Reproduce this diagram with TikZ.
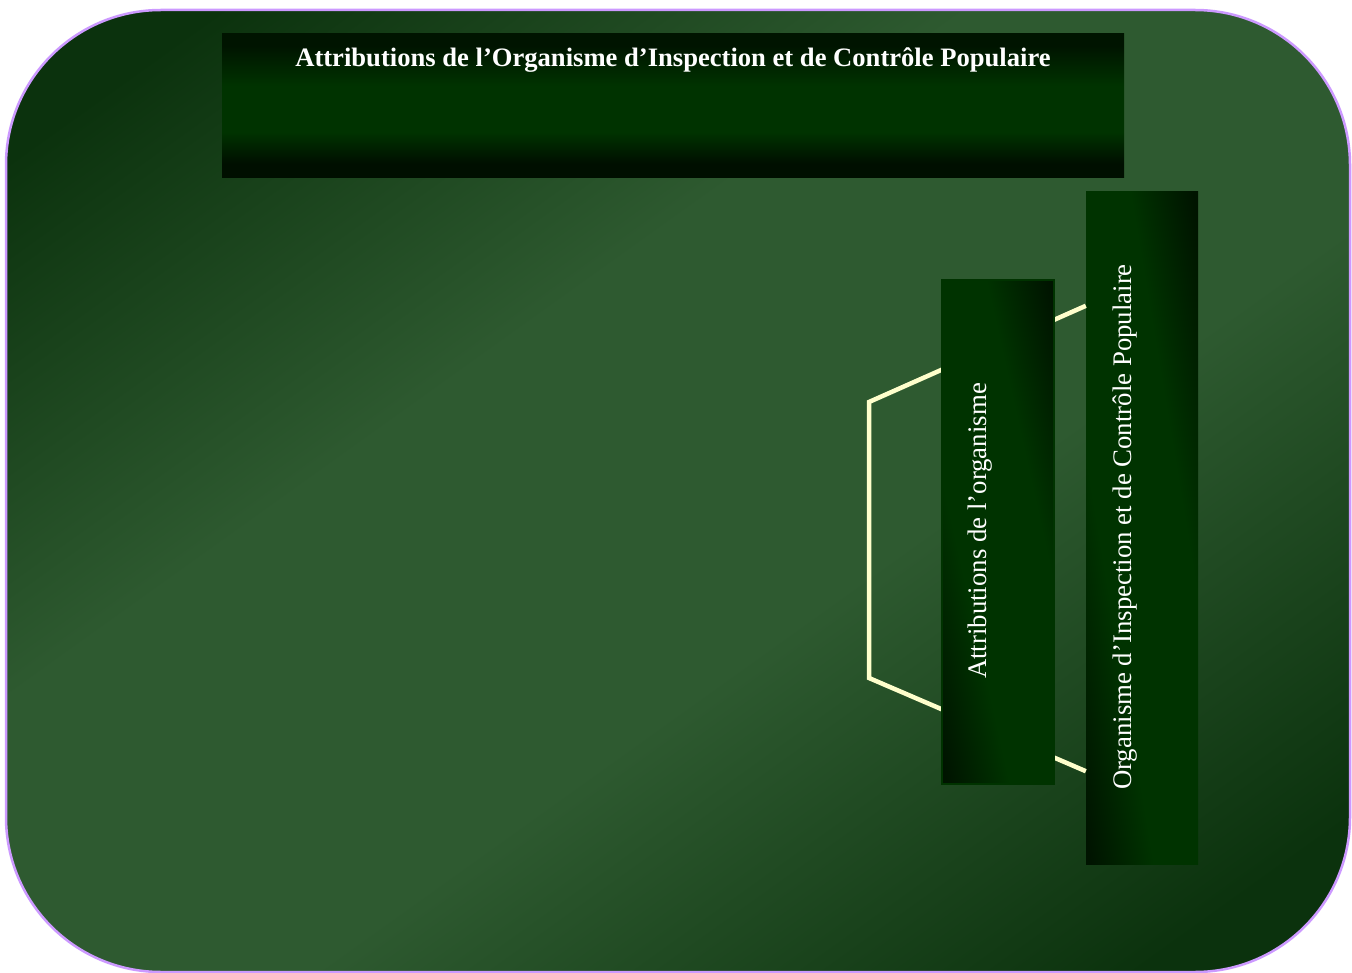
\documentclass[tikz,border=0pt]{standalone}
\usepackage{fontspec}
\setmainfont{Liberation Serif}
\usetikzlibrary{calc}
\definecolor{bgdk}{RGB}{11,50,13}
\definecolor{bglt}{RGB}{46,90,48}
\definecolor{boxgr}{RGB}{0,51,0}
\definecolor{boxdk}{RGB}{0,20,0}
\definecolor{boxdkb}{RGB}{0,15,0}
\definecolor{rimcol}{RGB}{204,153,255}
\definecolor{linecol}{RGB}{255,255,204}
\pgfdeclareverticalshading{bgshade}{100bp}{color(0bp)=(bgdk); color(20bp)=(bgdk); color(42bp)=(bglt); color(60bp)=(bglt); color(80bp)=(bgdk); color(100bp)=(bgdk)}
\pgfdeclareverticalshading{titleshade}{100bp}{color(0bp)=(boxdkb); color(25bp)=(boxdkb); color(30bp)=(boxdkb); color(41bp)=(boxgr); color(57bp)=(boxgr); color(71bp)=(boxdk); color(75bp)=(boxdk); color(100bp)=(boxdk)}
\pgfdeclareverticalshading{sideshade}{100bp}{color(0bp)=(boxdk); color(16bp)=(boxdk); color(36bp)=(boxgr); color(64bp)=(boxgr); color(84bp)=(boxdk); color(100bp)=(boxdk)}
\tikzset{
  panelrim/.style={draw=rimcol, line width=2.5pt, rounded corners=155pt},
  titlebox/.style={rectangle, inner sep=0pt, minimum width=902pt, minimum height=144pt, shading=titleshade},
  sidebox/.style={rectangle, inner sep=0pt},
  sidefill/.style={shading=sideshade, shading angle=-45},
  sidetext/.style={text=white, font=\fontsize{26.8}{30}\selectfont, rotate=90, inner sep=0pt},
  link/.style={draw=linecol, line width=4.5pt}
}
\begin{document}
\begin{tikzpicture}[x=1pt, y=-1pt]
\useasboundingbox (0,0) rectangle (1352,973);
% background panel
\begin{scope}
  \clip[rounded corners=155pt] (6,10) rectangle (1350,972);
  \begin{scope}[transform canvas={shift={(678,491)}, xscale=672, yscale=481}]
    \path[shading=bgshade, shading angle=45] (-1,-1) rectangle (1,1);
  \end{scope}
\end{scope}
\path[panelrim] (6,10) rectangle (1350,972);
% title
\node[titlebox] (title) at (673,106) {};
\node[text=white, font=\bfseries\fontsize{26.6}{30}\selectfont, inner sep=0pt] (titletext) at (673,60) {Attributions de l’Organisme d’Inspection et de Contrôle Populaire};
% box 3
\begin{scope}[transform canvas={shift={(1142,528)}, xscale=56, yscale=336}]
  \path[sidefill] (-1,-1) rectangle (1,1);
\end{scope}
\node[sidebox, minimum width=112pt, minimum height=672pt] (box3) at (1142,528) {};
\coordinate (c1) at (869,402);
\coordinate (c2) at (869,678);
\draw[link] ($(box3.north west)+(0,114)$) -- (c1) -- (c2) -- ($(box3.south west)+(0,-93)$);
% box 2
\begin{scope}[transform canvas={shift={(998,532)}, xscale=56, yscale=252}]
  \path[sidefill] (-1,-1) rectangle (1,1);
\end{scope}
\node[sidebox, draw=boxgr, line width=2pt, minimum width=112pt, minimum height=504pt] (box2) at (998,532) {};
\node[sidetext] (t2) at (980,531) {Attributions de l’organisme};
\node[sidetext] (t3) at (1125,527) {Organisme d’Inspection et de Contrôle Populaire};
\end{tikzpicture}
\end{document}
